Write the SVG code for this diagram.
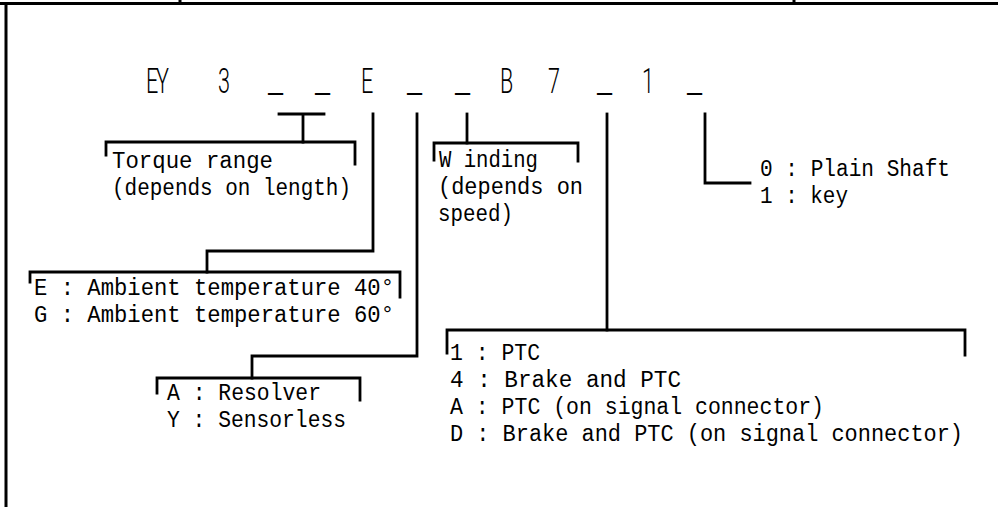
<svg xmlns="http://www.w3.org/2000/svg" width="998" height="507" viewBox="0 0 998 507">
<style>
  .ln { fill: none; stroke: #000; stroke-width: 2.8; stroke-linecap: square; stroke-linejoin: miter; }
  .fr { fill: none; stroke: #000; stroke-width: 3; }
  .lbl { font-family: "Liberation Mono", "DejaVu Sans Mono", monospace; font-size: 23px; fill: #000; }
  .code { font-family: Roboto, "Liberation Sans", sans-serif; font-weight: 300; font-size: 36px; fill: #000; }
  .us { font-family: "Liberation Mono", "DejaVu Sans Mono", monospace; font-weight: 400; font-size: 42px; }
</style>
<rect x="0" y="0" width="998" height="507" fill="#fff"/>
<g id="frame">
  <line class="fr" x1="0" y1="3.5" x2="998" y2="3.5"/>
  <line class="fr" x1="6" y1="3" x2="6" y2="507" stroke-width="2.7"/>
  <line class="fr" x1="180" y1="0" x2="180" y2="4" stroke-width="2"/>
  <line class="fr" x1="794" y1="0" x2="794" y2="4" stroke-width="2"/>
</g>
<g id="code">
  <text class="code" transform="scale(0.6 1)" y="93 93 93 93 93 90 93 90 93 93 93 90 93 90 93 93 93 93 93 90 93 93 93 90" x="243.3 260 291.7 363.3 408.3 446.7 486.7 525 566.7 601.7 641.7 678.3 716.7 758.3 800 833.3 875 913.3 958.3 995 1033.3 1070 1108.3 1145">EY 3 <tspan class="us">_</tspan> <tspan class="us">_</tspan> E <tspan class="us">_</tspan> <tspan class="us">_</tspan> B 7 <tspan class="us">_</tspan> 1 <tspan class="us">_</tspan></text>
</g>
<g id="connectors">
  <path class="ln" d="M279,114 H324 M303,114 V142"/>
  <path class="ln" d="M373,114 V251 H207 V272"/>
  <path class="ln" d="M417,114 V356 H252 V378"/>
  <path class="ln" d="M467,114 V143"/>
  <path class="ln" d="M607,114 V330"/>
  <path class="ln" d="M705,114 V183 H750"/>
</g>
<g id="torque">
  <path class="ln" d="M106,155 V142 H355 V164"/>
  <text class="lbl" x="112" y="168" textLength="161" lengthAdjust="spacingAndGlyphs">Torque range</text>
  <text class="lbl" x="112" y="195" textLength="239" lengthAdjust="spacingAndGlyphs">(depends on length)</text>
</g>
<g id="ambient">
  <path class="ln" d="M30,282 V272 H400 V297"/>
  <text class="lbl" x="34" y="295" textLength="360" lengthAdjust="spacingAndGlyphs">E : Ambient temperature 40°</text>
  <text class="lbl" x="34" y="322" textLength="360" lengthAdjust="spacingAndGlyphs">G : Ambient temperature 60°</text>
</g>
<g id="sensor">
  <path class="ln" d="M157,393 V378 H360 V400"/>
  <text class="lbl" x="167" y="400" textLength="154" lengthAdjust="spacingAndGlyphs">A : Resolver</text>
  <text class="lbl" x="167" y="427" textLength="179" lengthAdjust="spacingAndGlyphs">Y : Sensorless</text>
</g>
<g id="winding">
  <path class="ln" d="M434,160 V143 H578 V161"/>
  <text class="lbl" x="439" y="167" textLength="99" lengthAdjust="spacingAndGlyphs">W inding</text>
  <text class="lbl" x="438" y="194" textLength="145" lengthAdjust="spacingAndGlyphs">(depends on</text>
  <text class="lbl" x="438" y="221" textLength="75" lengthAdjust="spacingAndGlyphs">speed)</text>
</g>
<g id="options">
  <path class="ln" d="M447,353 V330 H965 V355"/>
  <text class="lbl" x="450" y="360" textLength="90" lengthAdjust="spacingAndGlyphs">1 : PTC</text>
  <text class="lbl" x="450" y="387" textLength="231" lengthAdjust="spacingAndGlyphs">4 : Brake and PTC</text>
  <text class="lbl" x="450" y="414" textLength="374" lengthAdjust="spacingAndGlyphs">A : PTC (on signal connector)</text>
  <text class="lbl" x="450" y="441" textLength="513" lengthAdjust="spacingAndGlyphs">D : Brake and PTC (on signal connector)</text>
</g>
<g id="shaft">
  <text class="lbl" x="760" y="176" textLength="190" lengthAdjust="spacingAndGlyphs">0 : Plain Shaft</text>
  <text class="lbl" x="760" y="203" textLength="88" lengthAdjust="spacingAndGlyphs">1 : key</text>
</g>
</svg>
